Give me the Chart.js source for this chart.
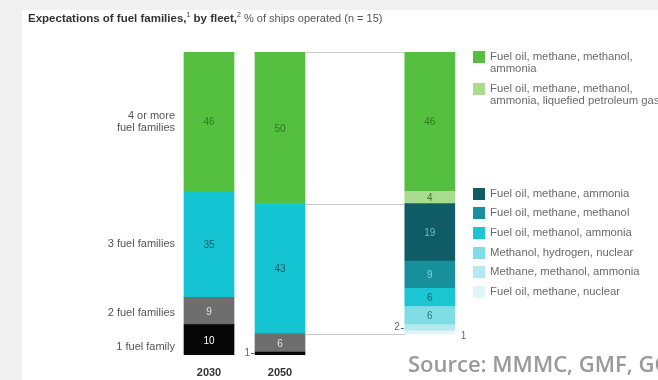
<!DOCTYPE html>
<html>
<head>
<meta charset="utf-8">
<script src="https://cdn.jsdelivr.net/npm/chart.js@4.4.1/dist/chart.umd.min.js"></script>
<style>
  html, body { margin: 0; padding: 0; background: #f0f0f0; }
  #panel { position: absolute; left: 22px; top: 10px; width: 636px; height: 370px; background: #ffffff; }
  #chart { position: absolute; left: 0; top: 0; }
</style>
</head>
<body>
<div id="panel"></div>
<canvas id="chart" width="658" height="380"></canvas>
<script>
// fleet share by number of fuel families (top to bottom of the stack)
const years = ['2030', '2050'];
const familyLabels = ['4 or more\nfuel families', '3 fuel families', '2 fuel families', '1 fuel family'];
const share2030 = [46, 35, 9, 10];
const share2050 = [50, 43, 6, 1];

// 2050 split of the 4+ and 3 family ships by fuel mix (top to bottom)
const mixLabels = [
    'Fuel oil, methane, methanol,\nammonia',
    'Fuel oil, methane, methanol,\nammonia, liquefied petroleum gas',
    'Fuel oil, methane, ammonia',
    'Fuel oil, methane, methanol',
    'Fuel oil, methanol, ammonia',
    'Methanol, hydrogen, nuclear',
    'Methane, methanol, ammonia',
    'Fuel oil, methane, nuclear'
];
const mix2050 = [46, 4, 19, 9, 6, 6, 2, 1];

const familyColors = ['#55bf3f', '#14c4d2', '#6e6e6e', '#060606'];
const familyText = ['#2c7a22', '#0d5f66', '#e8dede', '#ffffff'];
const mixColors = ['#55bf3f', '#a9dc8f', '#0f5c66', '#17909b', '#1bc6d3', '#7fdde6', '#b6e9ef', '#dff5f8'];
const mixText = ['#2c7a22', '#3f7a30', '#5cc4cc', '#7fd3da', '#0d5f66', '#1f7a84', '#555', '#555'];

const X_2030 = 0, X_2050 = 1, X_MIX = 3.11;
const BAR = 50;

const datasets = [];
// stacked bottom-up, so walk the lists in reverse
for (let i = familyLabels.length - 1; i >= 0; i--) {
    datasets.push({
        label: familyLabels[i],
        data: [{x: X_2030, y: share2030[i]}, {x: X_2050, y: share2050[i]}],
        backgroundColor: familyColors[i],
        labelColor: familyText[i]
    });
}
// lift the split bar so it sits level with the 2050 stack it breaks down
datasets.push({
    label: 'base',
    data: [{x: X_MIX, y: share2050[2] + share2050[3]}],
    backgroundColor: 'rgba(0,0,0,0)',
    hideLabel: true
});
for (let i = mixLabels.length - 1; i >= 0; i--) {
    datasets.push({
        label: mixLabels[i],
        data: [{x: X_MIX, y: mix2050[i]}],
        backgroundColor: mixColors[i],
        labelColor: mixText[i],
        outside: i === mixLabels.length - 1 ? 'right' : 'left'
    });
}

const FONT = '"Liberation Sans", Arial, sans-serif';

const decorations = {
    id: 'decorations',
    afterDatasetsDraw(chart) {
        const ctx = chart.ctx;
        const xs = chart.scales.x, ys = chart.scales.y;
        ctx.save();

        // connector lines between the 2050 bar and its split
        const x1 = xs.getPixelForValue(X_2050) + BAR / 2;
        const x2 = xs.getPixelForValue(X_MIX) - BAR / 2;
        const low = share2050[2] + share2050[3];
        ctx.strokeStyle = '#c9c9c9';
        ctx.lineWidth = 1;
        [100, low + share2050[1], low].forEach(v => {
            const y = Math.round(ys.getPixelForValue(v)) + 0.5;
            ctx.beginPath();
            ctx.moveTo(x1, y);
            ctx.lineTo(x2, y);
            ctx.stroke();
        });

        // segment values
        ctx.font = '10px ' + FONT;
        ctx.textBaseline = 'middle';
        chart.data.datasets.forEach((ds, di) => {
            if (ds.hideLabel) return;
            chart.getDatasetMeta(di).data.forEach((bar, k) => {
                const v = ds.data[k].y;
                const cy = (bar.y + bar.base) / 2;
                if (v >= 3) {
                    ctx.fillStyle = ds.labelColor;
                    ctx.textAlign = 'center';
                    ctx.fillText(String(v), bar.x, cy + 1);
                } else {
                    ctx.fillStyle = '#666';
                    if (ds.outside === 'right') {
                        ctx.textAlign = 'left';
                        ctx.fillText(String(v), bar.x + BAR / 2 + 6, cy + 4);
                    } else {
                        ctx.textAlign = 'right';
                        ctx.fillText(String(v), bar.x - BAR / 2 - 5, cy);
                        ctx.fillRect(bar.x - BAR / 2 - 4, Math.round(cy), 3, 1);
                    }
                }
            });
        });

        // family labels beside the 2030 bar
        ctx.fillStyle = '#555';
        ctx.textAlign = 'right';
        ctx.font = '11px ' + FONT;
        const lx = xs.getPixelForValue(X_2030) - BAR / 2 - 9;
        let top = 100;
        familyLabels.forEach((lab, i) => {
            const mid = ys.getPixelForValue(top - share2030[i] / 2);
            top -= share2030[i];
            const lines = lab.split('\n');
            const off = i === 3 ? 7 : (i === 2 ? 2 : 0);
            lines.forEach((ln, j) => {
                ctx.fillText(ln, lx, mid + off + (j - (lines.length - 1) / 2) * 12);
            });
        });

        // year labels
        ctx.fillStyle = '#333';
        ctx.textAlign = 'center';
        ctx.font = 'bold 11px ' + FONT;
        ctx.fillText(years[0], xs.getPixelForValue(X_2030), 373);
        ctx.fillText(years[1], xs.getPixelForValue(X_2050), 373);

        // legend for the split bar
        const legX = 473;
        const legY = [57, 89, 194, 213, 233, 253, 272, 292];
        ctx.textAlign = 'left';
        ctx.font = '11.3px ' + FONT;
        mixLabels.forEach((lab, i) => {
            const lines = lab.split('\n');
            ctx.fillStyle = mixColors[i];
            ctx.fillRect(legX, legY[i] - 6, 12, 12);
            ctx.fillStyle = '#6a6a6a';
            lines.forEach((ln, j) => ctx.fillText(ln, legX + 17, legY[i] + j * 12));
        });

        // title
        ctx.textBaseline = 'alphabetic';
        ctx.fillStyle = '#333';
        let tx = 28;
        const ty = 22;
        const part = (txt, font, dy) => {
            ctx.font = font;
            ctx.fillText(txt, tx, ty + (dy || 0));
            tx += ctx.measureText(txt).width;
        };
        part('Expectations of fuel families,', 'bold 11.5px ' + FONT);
        part('1', '7px ' + FONT, -5);
        part(' by fleet,', 'bold 11.5px ' + FONT);
        part('2', '7px ' + FONT, -5);
        ctx.fillStyle = '#555';
        part(' % of ships operated (n = 15)', '11px ' + FONT);

        // source note
        ctx.fillStyle = '#9a9a9a';
        ctx.font = '600 22px "Open Sans", "Noto Sans", sans-serif';
        ctx.fillText('Source: MMMC, GMF, GCMD', 408, 372);
        ctx.restore();
    }
};

new Chart(document.getElementById('chart').getContext('2d'), {
    type: 'bar',
    data: {datasets: datasets},
    options: {
        responsive: false,
        animation: false,
        events: [],
        layout: {padding: {left: 138, right: 129.5, top: 52, bottom: 25}},
        datasets: {bar: {barThickness: BAR, grouped: false, borderWidth: 0}},
        scales: {
            x: {type: 'linear', min: -1, max: 4.5, offset: false, stacked: true, display: false},
            y: {stacked: true, min: 0, max: 100, display: false}
        },
        plugins: {legend: {display: false}, tooltip: {enabled: false}}
    },
    plugins: [decorations]
});
</script>
</body>
</html>
